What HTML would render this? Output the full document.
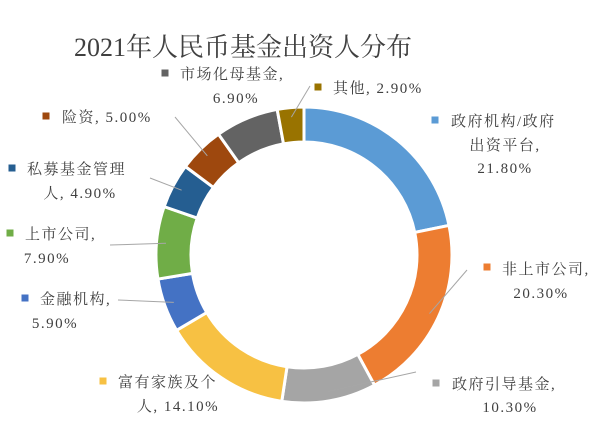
<!DOCTYPE html>
<html><head><meta charset="utf-8">
<style>
html,body{margin:0;padding:0;background:#fff;}
#c{position:relative;width:611px;height:445px;overflow:hidden;}
svg{position:absolute;left:0;top:0;}
text{font-family:"Liberation Serif","Noto Serif CJK SC",serif;fill:#404040;}
</style></head><body>
<div id="c">
<svg id="s" width="611" height="445">
<text x="243" y="56" text-anchor="middle" font-size="26">2021年人民币基金出资人分布</text>
</svg>
</div>
<script>
const categories=["政府机构/政府出资平台","非上市公司","政府引导基金","富有家族及个人","金融机构","上市公司","私募基金管理人","险资","市场化母基金","其他"];
const values=[21.8,20.3,10.3,14.1,5.9,7.9,4.9,5.0,6.9,2.9];
const valueLabels=["21.80%","20.30%","10.30%","14.10%","5.90%","7.90%","4.90%","5.00%","6.90%","2.90%"];
const colors=["#5B9BD5","#ED7D31","#A5A5A5","#F7C143","#4472C4","#70AD47","#255E91","#9E480E","#636363","#997300"];
// label layout: [squareX, squareY, lines as [text,x,y,anchor], leaderStart]
const layout=[
 {sq:[435,120],lines:[["政府机构/政府",451,126,"start"],["出资平台,",505,150,"middle"],["21.80%",505,173,"middle"]],ls:null},
 {sq:[487,267],lines:[["非上市公司,",502,274,"start"],["20.30%",541,298,"middle"]],ls:[467,270]},
 {sq:[436,383],lines:[["政府引导基金,",452,389,"start"],["10.30%",510,412,"middle"]],ls:[416,372]},
 {sq:[103,381],lines:[["富有家族及个",118,387,"start"],["人, 14.10%",178,411,"middle"]],ls:null},
 {sq:[25,298],lines:[["金融机构,",40,304,"start"],["5.90%",55,328,"middle"]],ls:[118,300]},
 {sq:[10,233],lines:[["上市公司,",25,239,"start"],["7.90%",47,263,"middle"]],ls:[110,245]},
 {sq:[12,168],lines:[["私募基金管理",27,174,"start"],["人, 4.90%",80,198,"middle"]],ls:[150,178]},
 {sq:[46,116],lines:[["险资, 5.00%",62,122,"start"]],ls:[175,117]},
 {sq:[165,73],lines:[["市场化母基金,",180,79,"start"],["6.90%",236,103,"middle"]],ls:null},
 {sq:[318,87],lines:[["其他, 2.90%",333,93,"start"]],ls:[310,86]}
];
const names=["gov-platform","unlisted-co","gov-guide-fund","wealthy-family","financial-inst","listed-co","pe-manager","insurance","mother-fund","other"];
const NS="http://www.w3.org/2000/svg";
const svg=document.getElementById('s');
const cx=304,cy=255,R=148,r=113;
const total=values.reduce((a,b)=>a+b,0);
function pt(a,rad){return [cx+rad*Math.sin(a),cy-rad*Math.cos(a)];}
let acc=0;
values.forEach((v,i)=>{
  const a0=acc/total*2*Math.PI; acc+=v; const a1=acc/total*2*Math.PI;
  const large=(a1-a0)>Math.PI?1:0;
  const p0=pt(a0,R),p1=pt(a1,R),q1=pt(a1,r),q0=pt(a0,r);
  const p=document.createElementNS(NS,'path');
  p.setAttribute('d',`M${p0}A${R},${R} 0 ${large} 1 ${p1}L${q1}A${r},${r} 0 ${large} 0 ${q0}Z`);
  p.setAttribute('fill',colors[i]);p.setAttribute('stroke','#fff');p.setAttribute('stroke-width','3');
  
  
  svg.appendChild(p);
  const L=layout[i];
  if(L.ls){
    const m=pt((a0+a1)/2,(R+r)/2+8);
    const ln=document.createElementNS(NS,'polyline');
    ln.setAttribute('points',`${L.ls} ${m}`);
    ln.setAttribute('fill','none');ln.setAttribute('stroke','#A6A6A6');ln.setAttribute('stroke-width','1');
    
    
    svg.appendChild(ln);
  }
  const sq=document.createElementNS(NS,'rect');
  sq.setAttribute('x',L.sq[0]-3.5);sq.setAttribute('y',L.sq[1]-3.5);sq.setAttribute('width',7);sq.setAttribute('height',7);
  sq.setAttribute('fill',colors[i]);
  
  
  svg.appendChild(sq);
  L.lines.forEach((ln,j)=>{
    const t=document.createElementNS(NS,'text');
    t.setAttribute('x',ln[1]);t.setAttribute('y',ln[2]);t.setAttribute('text-anchor',ln[3]);
    t.setAttribute('font-size','15');t.setAttribute('letter-spacing','1.5');
    t.textContent=(j===L.lines.length-1&&ln[0].indexOf('%')<0)?ln[0]:ln[0];
    
    
    svg.appendChild(t);
  });
});
</script>
</body></html>
